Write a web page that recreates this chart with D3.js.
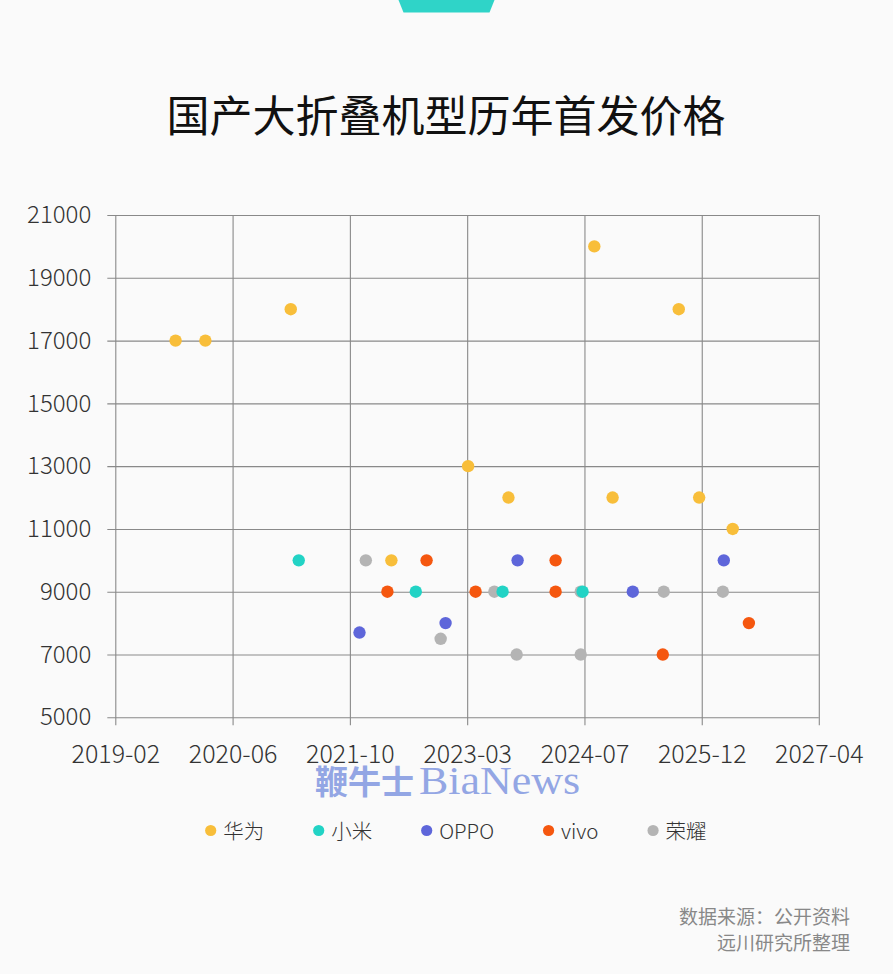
<!DOCTYPE html>
<html>
<head>
<meta charset="utf-8">
<script src="https://cdn.jsdelivr.net/npm/d3@7"></script>
<style>
  html, body { margin: 0; padding: 0; background: #fafafa; }
  svg { display: block; }
  text { font-family: "Noto Sans CJK SC", "Noto Sans", sans-serif; }
</style>
</head>
<body>
<div id="chart"></div>
<script>
// ---- data (launch date, launch price in CNY) ----
const huawei = [
  ["2019-10-19", 17000], ["2020-02-23", 17000], ["2021-02-21", 18000],
  ["2022-04-26", 10000], ["2023-03-19", 13000], ["2023-09-07", 12000],
  ["2024-09-07", 20000], ["2024-11-24", 12000], ["2025-09-02", 18000],
  ["2025-11-28", 12000], ["2026-04-20", 11000]
];
const xiaomi = [
  ["2021-03-27", 10000], ["2022-08-08", 9000], ["2023-08-13", 9000],
  ["2024-07-19", 9000]
];
const oppo = [
  ["2021-12-11", 7700], ["2022-12-13", 8000], ["2023-10-16", 10000],
  ["2025-02-18", 9000], ["2026-03-13", 10000]
];
const vivo = [
  ["2022-04-09", 9000], ["2022-09-23", 10000], ["2023-04-20", 9000],
  ["2024-03-26", 10000], ["2024-03-26", 9000], ["2025-06-26", 7000],
  ["2026-06-28", 8000]
];
const honor = [
  ["2022-01-07", 10000], ["2022-11-22", 7500], ["2023-07-09", 9000],
  ["2023-10-12", 7000], ["2024-07-11", 7000], ["2024-07-11", 9000],
  ["2025-06-30", 9000], ["2026-03-09", 9000]
];

const seriesNames = ["华为", "小米", "OPPO", "vivo", "荣耀"];
const seriesColors = ["#f8be3a", "#22d3c5", "#5e66da", "#f5570f", "#b4b4b4"];
const seriesData = [huawei, xiaomi, oppo, vivo, honor];

// Excel-style date axis: every 500 days
const xTicks = ["2019-02-04", "2020-06-18", "2021-10-31", "2023-03-15",
                "2024-07-27", "2025-12-09", "2027-04-22"];
const yTicks = [5000, 7000, 9000, 11000, 13000, 15000, 17000, 19000, 21000];

const width = 893, height = 974;
const plotL = 115.3, plotR = 818.8, plotT = 215, plotB = 717.3;
const tickLen = 8;

const parse = d3.utcParse("%Y-%m-%d");
const fmt = d3.utcFormat("%Y-%m");

const svg = d3.select("#chart").append("svg")
  .attr("width", width)
  .attr("height", height);

svg.append("rect").attr("width", width).attr("height", height).attr("fill", "#fafafa");

// teal tab at the top
svg.append("path")
  .attr("d", "M398.5,0 L494.5,0 L489.5,12.5 L403.5,12.5 Z")
  .attr("fill", "#2fd4c8");

svg.append("text")
  .attr("x", 446).attr("y", 132)
  .attr("text-anchor", "middle")
  .attr("font-size", 43)
  .attr("fill", "#111")
  .text("国产大折叠机型历年首发价格");

const x = d3.scaleUtc()
  .domain([parse(xTicks[0]), parse(xTicks[xTicks.length - 1])])
  .range([plotL, plotR]);
const y = d3.scaleLinear()
  .domain([5000, 21000])
  .range([plotB, plotT]);

// y grid + ticks + labels
const yAxis = svg.append("g")
  .attr("transform", `translate(${plotL - tickLen},0)`)
  .call(d3.axisLeft(y).tickValues(yTicks).tickFormat(d3.format("d"))
    .tickSize(-(plotR - plotL + tickLen)).tickPadding(16));

// x grid + ticks + labels
const xAxis = svg.append("g")
  .attr("transform", `translate(0,${plotB + tickLen})`)
  .call(d3.axisBottom(x).tickValues(xTicks.map(parse)).tickFormat(fmt)
    .tickSize(-(plotB - plotT + tickLen)).tickPadding(20));

[yAxis, xAxis].forEach(g => {
  g.select(".domain").remove();
  g.selectAll(".tick line").attr("stroke", "#898989").attr("stroke-width", 1.1);
  g.selectAll(".tick text")
    .attr("fill", "#333")
    .style("font-family", '"Noto Sans CJK SC", sans-serif')
    .style("font-weight", 300);
});
yAxis.selectAll(".tick text").attr("font-size", 24);
xAxis.selectAll(".tick text").attr("font-size", 25);

// watermark
svg.append("text")
  .attr("x", 315).attr("y", 794)
  .attr("font-size", 33)
  .attr("font-weight", 700)
  .attr("fill", "#93a6e4")
  .text("鞭牛士");
svg.append("text")
  .attr("x", 419).attr("y", 794)
  .attr("font-size", 40)
  .attr("textLength", 161)
  .attr("lengthAdjust", "spacingAndGlyphs")
  .attr("fill", "#93a6e4")
  .style("font-family", '"Liberation Serif", "DejaVu Serif", serif')
  .text("BiaNews");

// dots: honor first so the others sit on top
const drawOrder = [4, 0, 1, 2, 3];
drawOrder.forEach(i => {
  svg.append("g").selectAll("circle")
    .data(seriesData[i])
    .join("circle")
      .attr("cx", d => x(parse(d[0])))
      .attr("cy", d => y(d[1]))
      .attr("r", 6.2)
      .attr("fill", seriesColors[i]);
});

// legend
const legend = svg.append("g");
let lx = 210.7;
seriesNames.forEach((name, i) => {
  legend.append("circle")
    .attr("cx", lx).attr("cy", 830.5).attr("r", 5.6)
    .attr("fill", seriesColors[i]);
  const t = legend.append("text")
    .attr("x", lx + 12.5).attr("y", 839)
    .attr("font-size", 20.5)
    .attr("fill", "#333")
    .style("font-weight", 300)
    .text(name);
  lx += 12.5 + t.node().getComputedTextLength() + 54.5;
});

// source note
svg.append("text")
  .attr("x", 850).attr("y", 924)
  .attr("text-anchor", "end")
  .attr("font-size", 19)
  .attr("fill", "#888")
  .text("数据来源：公开资料");
svg.append("text")
  .attr("x", 850).attr("y", 950)
  .attr("text-anchor", "end")
  .attr("font-size", 19)
  .attr("fill", "#888")
  .text("远川研究所整理");
</script>
</body>
</html>
